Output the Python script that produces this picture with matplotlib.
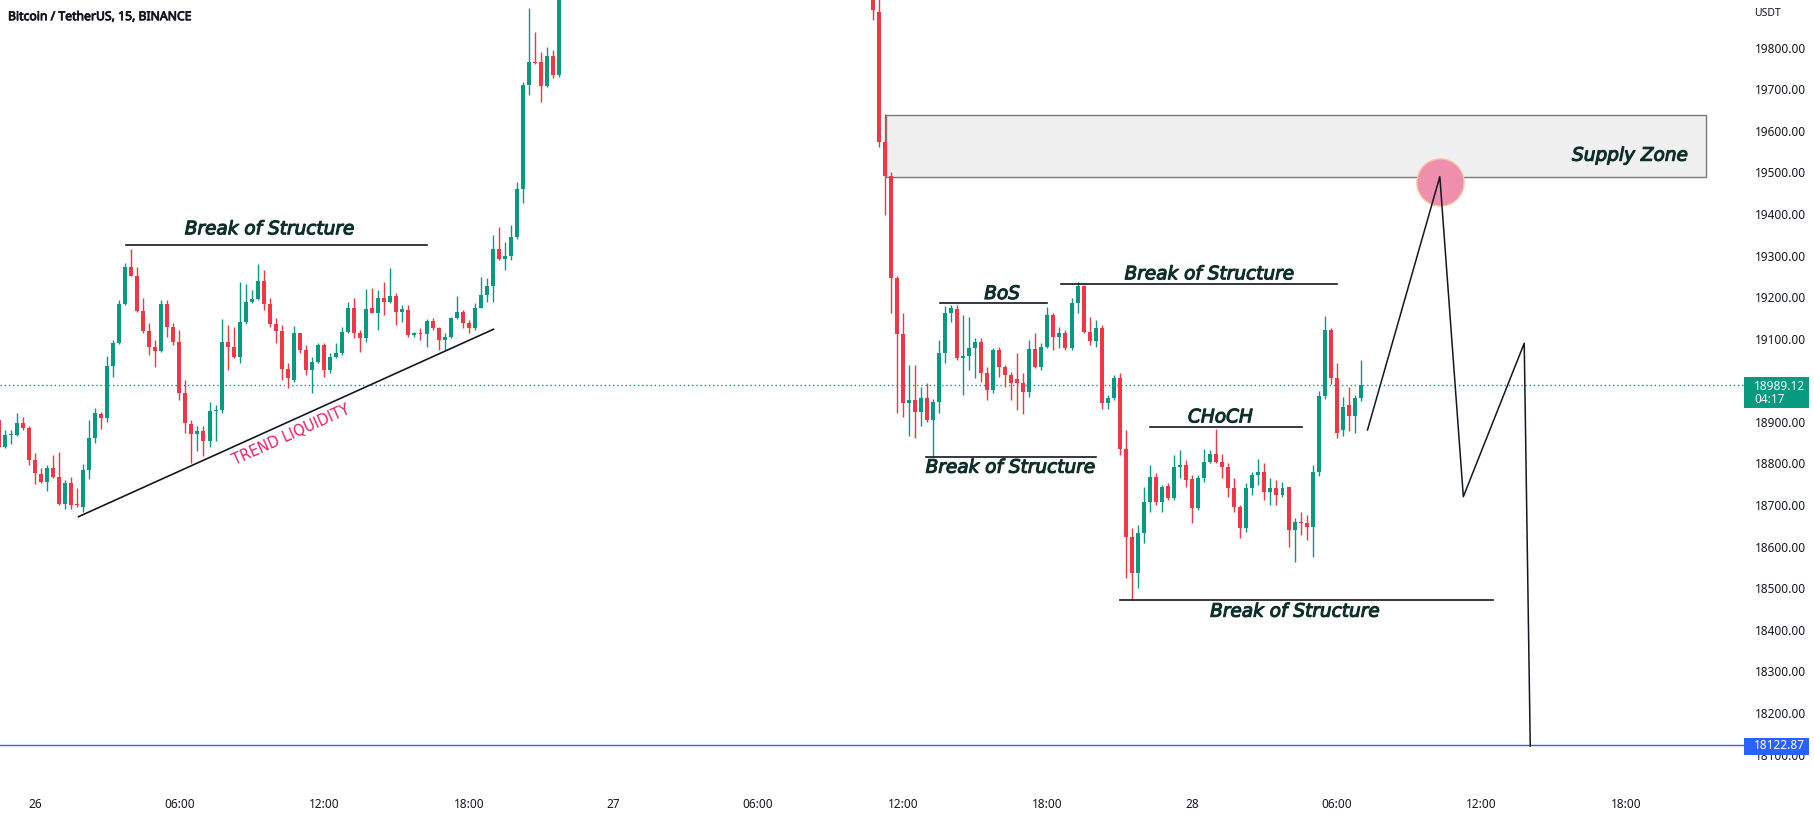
import numpy as np
import matplotlib
matplotlib.use("Agg")
import matplotlib.pyplot as plt
import matplotlib.patheffects as pe
from matplotlib.patches import Rectangle

# BTCUSDT 15m, bar index counted from 26 00:00
left_start = -6
left_open = [18905, 18840, 18869, 18869, 18897, 18886, 18808, 18775, 18756, 18789,
             18768, 18702, 18754, 18700, 18696, 18784, 18861, 18919, 18909, 19034,
             19090, 19184, 19273, 19252, 19167, 19119, 19081, 19071, 19184, 19129,
             19093, 18969, 18895, 18871, 18877, 18853, 18926, 18929, 19093, 19081,
             19057, 19141, 19189, 19195, 19238, 19184, 19136, 19119, 19027, 19001,
             19113, 19073, 19025, 19045, 19085, 19025, 19057, 19065, 19117, 19173,
             19113, 19101, 19173, 19163, 19199, 19189, 19203, 19165, 19169, 19109,
             19113, 19111, 19143, 19125, 19097, 19104, 19149, 19165, 19137, 19125,
             19175, 19205, 19227, 19317, 19291, 19299, 19345, 19459, 19710, 19766,
             19766, 19708, 19780, 19734]
left_high = [18915, 18880, 18880, 18921, 18913, 18890, 18825, 18789, 18796, 18820,
             18828, 18760, 18768, 18740, 18798, 18905, 18933, 18925, 19058, 19097,
             19193, 19282, 19317, 19273, 19197, 19138, 19097, 19193, 19193, 19137,
             19121, 19001, 18905, 18889, 18889, 18949, 18941, 19147, 19133, 19129,
             19237, 19232, 19218, 19279, 19265, 19197, 19149, 19133, 19041, 19130,
             19113, 19085, 19057, 19089, 19089, 19065, 19089, 19129, 19189, 19197,
             19121, 19219, 19221, 19217, 19237, 19271, 19209, 19181, 19181, 19117,
             19125, 19147, 19149, 19129, 19113, 19153, 19203, 19169, 19145, 19185,
             19249, 19245, 19349, 19369, 19333, 19373, 19478, 19718, 19895, 19838,
             19790, 19802, 19794, 19950]
left_low = [18837, 18837, 18848, 18867, 18880, 18796, 18751, 18753, 18735, 18766,
            18700, 18690, 18690, 18696, 18683, 18763, 18849, 18883, 18901, 19009,
            19088, 19180, 19250, 19165, 19113, 19061, 19033, 19069, 19105, 19085,
            18953, 18873, 18801, 18829, 18817, 18840, 18853, 18921, 19025, 19053,
            19041, 19135, 19185, 19193, 19169, 19129, 19089, 19001, 18981, 18997,
            19065, 19013, 18969, 19041, 19009, 19017, 19053, 19061, 19113, 19101,
            19069, 19091, 19161, 19121, 19157, 19185, 19133, 19141, 19105, 19105,
            19097, 19081, 19121, 19073, 19073, 19101, 19147, 19125, 19115, 19121,
            19173, 19189, 19189, 19289, 19265, 19289, 19341, 19426, 19686, 19760,
            19670, 19706, 19728, 19730]
left_close = [18840, 18869, 18869, 18897, 18885, 18808, 18776, 18756, 18789, 18768,
              18702, 18754, 18700, 18699, 18784, 18861, 18921, 18909, 19034, 19090,
              19184, 19273, 19252, 19167, 19119, 19081, 19071, 19184, 19129, 19093,
              18969, 18897, 18871, 18877, 18853, 18926, 18929, 19093, 19081, 19057,
              19141, 19189, 19195, 19238, 19184, 19136, 19119, 19027, 19005, 19113,
              19073, 19025, 19045, 19085, 19025, 19057, 19065, 19117, 19173, 19113,
              19101, 19171, 19163, 19199, 19189, 19203, 19165, 19171, 19109, 19113,
              19111, 19143, 19125, 19097, 19104, 19149, 19165, 19137, 19125, 19175,
              19205, 19227, 19317, 19291, 19299, 19345, 19459, 19710, 19766, 19762,
              19708, 19780, 19734, 19930]

right_start = 139
right_open = [19930, 19887, 19572, 19491, 19245, 19111, 18945, 18953, 18925, 18958,
              18905, 18948, 19065, 19161, 19171, 19053, 19059, 19077, 19093, 19017,
              18977, 19073, 19033, 19013, 19003, 18993, 18973, 19075, 19033, 19081,
              19157, 19105, 19113, 19077, 19185, 19227, 19117, 19095, 19125, 18946,
              18957, 19005, 18836, 18624, 18536, 18632, 18708, 18767, 18708, 18746,
              18716, 18792, 18796, 18762, 18692, 18764, 18804, 18823, 18804, 18792,
              18740, 18695, 18644, 18740, 18772, 18780, 18732, 18740, 18724, 18743,
              18639, 18660, 18656, 18648, 18780, 18963, 19121, 19005, 18880, 18941,
              18914, 18958]
right_high = [19950, 19930, 19640, 19502, 19250, 19162, 19037, 19037, 18985, 18993,
              18955, 19097, 19178, 19182, 19181, 19157, 19153, 19101, 19102, 19033,
              19077, 19081, 19037, 19021, 19065, 19017, 19097, 19113, 19089, 19177,
              19161, 19129, 19121, 19197, 19237, 19229, 19153, 19145, 19133, 18965,
              19013, 19017, 18880, 18644, 18652, 18744, 18796, 18776, 18749, 18752,
              18820, 18832, 18808, 18772, 18772, 18836, 18832, 18882, 18823, 18800,
              18764, 18700, 18752, 18780, 18812, 18800, 18764, 18760, 18756, 18743,
              18668, 18684, 18676, 18796, 18975, 19155, 19125, 19041, 18960, 18985,
              18965, 19049]
right_low = [19867, 19560, 19398, 19161, 18921, 18913, 18865, 18861, 18889, 18901,
             18816, 18921, 19041, 19141, 19049, 18965, 19025, 19005, 18997, 18953,
             18969, 19009, 18985, 18953, 18929, 18919, 18961, 19029, 19025, 19077,
             19073, 19077, 19073, 19073, 19161, 19113, 19085, 19081, 18930, 18932,
             18953, 18820, 18524, 18472, 18500, 18608, 18684, 18700, 18684, 18712,
             18712, 18764, 18744, 18656, 18688, 18756, 18800, 18800, 18764, 18720,
             18684, 18620, 18636, 18724, 18748, 18712, 18700, 18700, 18720, 18600,
             18564, 18628, 18616, 18576, 18770, 18955, 18990, 18861, 18865, 18877,
             18873, 18950]
right_close = [19891, 19572, 19491, 19245, 19111, 18945, 18953, 18925, 18958, 18905,
               18949, 19065, 19161, 19175, 19053, 19059, 19077, 19093, 19017, 18977,
               19073, 19033, 19013, 18993, 18993, 18973, 19075, 19033, 19081, 19157,
               19105, 19113, 19077, 19185, 19227, 19117, 19095, 19125, 18946, 18957,
               19005, 18836, 18624, 18536, 18632, 18708, 18767, 18708, 18743, 18716,
               18792, 18796, 18760, 18692, 18764, 18804, 18823, 18804, 18792, 18740,
               18695, 18644, 18740, 18772, 18780, 18732, 18740, 18724, 18740, 18639,
               18660, 18656, 18648, 18780, 18963, 19121, 19005, 18873, 18935, 18914,
               18958, 18989.12]

last_price = 18989.12
alert_price = 18122.87
# 19000.00 sits under the last-price badge, so it is left off the scale
price_ticks = [p for p in range(18100, 19801, 100) if p != 19000]
time_ticks = [0, 24, 48, 72, 96, 120, 144, 168, 192, 216, 240, 264]
time_labels = ["26", "06:00", "12:00", "18:00", "27", "06:00", "12:00",
               "18:00", "28", "06:00", "12:00", "18:00"]

# drawings: (bar_from, bar_to, price)
structure_lines = [(15.2, 65.0, 19325.5), (150.2, 168.0, 19185.3),
                   (170.2, 216.0, 19231.7), (185.1, 210.2, 18887.0),
                   (147.9, 176.1, 18814.9), (180.1, 242.0, 18471.0)]
structure_texts = [(39.0, 19363.3, "Break of Structure"), (160.5, 19207.6, "BoS"),
                   (194.9, 19255.0, "Break of Structure"), (196.7, 18911.0, "CHoCH"),
                   (161.9, 18789.9, "Break of Structure"),
                   (209.1, 18443.6, "Break of Structure")]
trend_x = [7.27, 76.1]
trend_y = [18672.1, 19122.8]
supply_x = [141.2, 277.2]
supply_y = [19488.0, 19637.4]
path_x = [221.1, 233.1, 237.0, 247.1, 248.1]
path_y = [18880.6, 19489.8, 18720.2, 19089.1, 18120.6]
target_bar, target_price = 233.1, 19477.0

GREEN = "#089981"
RED = "#f23645"
INK = "#131722"
NOTE = "#0f2f29"


def draw_candles(ax, start, o, h, l, c):
    o, h, l, c = map(np.array, (o, h, l, c))
    x = start + np.arange(len(o))
    up = c >= o
    colors = np.where(up, GREEN, RED)
    ax.vlines(x, l, h, colors=colors, linewidth=1.0, zorder=2)
    bottom = np.minimum(o, c)
    height = np.maximum(np.abs(c - o), 2.4)
    ax.bar(x, height, bottom=bottom, width=0.66, color=colors,
           linewidth=0, zorder=3)


W, H = 1814, 818
fig = plt.figure(figsize=(W / 100, H / 100), dpi=100)
ax = fig.add_axes([0, 33 / H, 1744 / W, 785 / H])
ax.set_xlim(-34.7 / 6.028, (1744 - 34.7) / 6.028)
ax.set_ylim(18026.8, 19914.7)
for s in ax.spines.values():
    s.set_visible(False)

draw_candles(ax, left_start, left_open, left_high, left_low, left_close)
draw_candles(ax, right_start, right_open, right_high, right_low, right_close)

ax.axhline(last_price, color=GREEN, linestyle=(0, (1, 2)), linewidth=1.0, zorder=1)
ax.axhline(alert_price, color="#2962ff", linewidth=1.0, zorder=1)

# supply zone
ax.add_patch(Rectangle((supply_x[0], supply_y[0]), supply_x[1] - supply_x[0],
                       supply_y[1] - supply_y[0], facecolor="#f0f0f0",
                       edgecolor="#7a7a7a", linewidth=1.0, zorder=1.5))
# medium weight: regular oblique with a thin outline of the same colour
medium = [pe.withStroke(linewidth=0.8, foreground=NOTE)]
note_style = dict(fontsize=13.3, style="italic", color=NOTE, zorder=6,
                  path_effects=medium)
ax.text(supply_x[1] - 2.9, 19540.3, "Supply Zone", ha="right", va="center",
        **note_style)

for x0, x1, p in structure_lines:
    ax.plot([x0, x1], [p, p], color=INK, linewidth=1.2, zorder=4)
for x, p, t in structure_texts:
    ax.text(x, p, t, ha="center", va="center", **note_style)

ax.plot(trend_x, trend_y, color=INK, linewidth=1.2, zorder=4)
ax.text(42.5, 18868.5, "TREND LIQUIDITY", ha="center", va="center",
        rotation=24.3, rotation_mode="anchor", fontsize=10.5, color="#e91e63",
        zorder=6)

ax.plot(target_bar, target_price, "o", markersize=34, markerfacecolor="#ef8fae",
        markeredgecolor="#f6c79d", markeredgewidth=1.0, zorder=4.5)
ax.plot(path_x, path_y, color=INK, linewidth=1.1, zorder=5)

# axes
ax.set_xticks(time_ticks)
ax.set_xticklabels(time_labels)
ax.yaxis.tick_right()
ax.set_yticks(price_ticks)
ax.set_yticklabels([f"{p:.2f}" for p in price_ticks])
ax.tick_params(axis="both", length=0, labelsize=8.5, labelcolor=INK)
ax.tick_params(axis="x", pad=9)
ax.tick_params(axis="y", pad=7.5)
for lab in ax.get_xticklabels() + ax.get_yticklabels():
    lab.set_fontfamily("Noto Sans")

# price badges on the scale
ytr = ax.get_yaxis_transform()
ax.add_patch(Rectangle((1.0, 18933.5), 65 / 1744, 74.5, transform=ytr,
                       facecolor=GREEN, edgecolor="none", clip_on=False, zorder=10))
ax.text(1.0 + 10 / 1744, 18986.0, "18989.12", transform=ytr, ha="left",
        va="center", fontsize=8.5, fontweight="bold", color="white",
        family="Noto Sans", zorder=11, clip_on=False)
ax.text(1.0 + 10 / 1744, 18955.0, "04:17", transform=ytr, ha="left",
        va="center", fontsize=8.5, fontweight="bold", color="white",
        family="Noto Sans", zorder=11, clip_on=False)
ax.add_patch(Rectangle((1.0, 18098.9), 65 / 1744, 40.9, transform=ytr,
                       facecolor="#2962ff", edgecolor="none", clip_on=False, zorder=10))
ax.text(1.0 + 10 / 1744, alert_price, "18122.87", transform=ytr, ha="left",
        va="center", fontsize=8.5, fontweight="bold", color="white",
        family="Noto Sans", zorder=11, clip_on=False)

fig.text(8 / W, 1 - 16.7 / H, "Bitcoin / TetherUS, 15, BINANCE", ha="left",
         va="center", fontsize=8.8, color=INK, family="Noto Sans",
         path_effects=[pe.withStroke(linewidth=0.6, foreground=INK)])
fig.text(1754 / W, 1 - 13.6 / H, "USDT", ha="left", va="center", fontsize=7.5,
         color=INK, family="Noto Sans")

fig.savefig("out.png", dpi=100, facecolor="white")
